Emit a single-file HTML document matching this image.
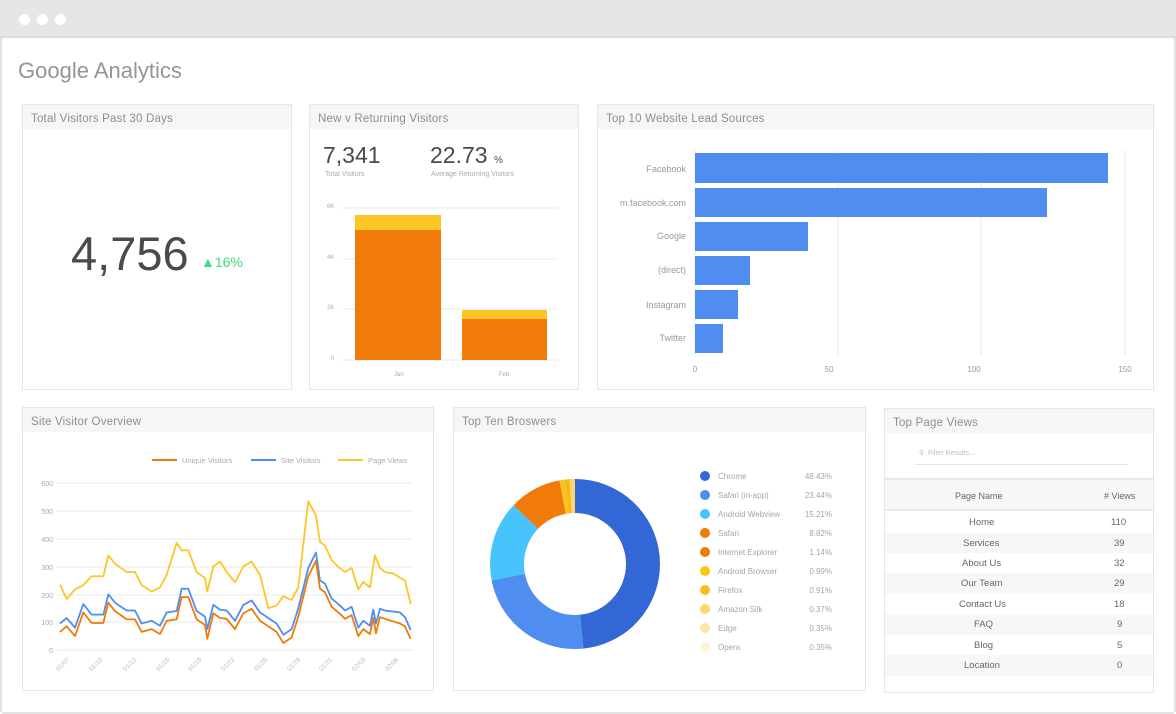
<!DOCTYPE html>
<html><head><meta charset="utf-8"><style>
*{box-sizing:border-box;margin:0;padding:0}
body{width:1176px;height:714px;background:#fff;font-family:"Liberation Sans",sans-serif;position:relative;overflow:hidden;color:#888}
.win{position:absolute;left:0;top:0;width:1176px;height:714px;border:2px solid #e2e2e2;border-radius:4px}
.bar{position:absolute;left:0;top:0;width:1176px;height:38px;background:#e6e6e6;border-bottom:2px solid #dcdcdc}
.dot{position:absolute;top:14px;width:11px;height:11px;border-radius:50%;background:#fff}
.panel{position:absolute;border:1px solid #e6e6e6;background:#fff}
.hd{height:24px;background:#f6f6f6;font-size:11.5px;color:#8e8e8e;padding:8px 0 0 8px;letter-spacing:.2px}
svg text{font-family:"Liberation Sans",sans-serif}
</style></head><body>
<div class="win"></div>
<div class="bar"></div>
<div class="dot" style="left:19px"></div><div class="dot" style="left:37px"></div><div class="dot" style="left:55px"></div>
<div style="position:absolute;left:18px;top:58px;font-size:22px;color:#959595">Google Analytics</div>

<div class="panel" style="left:22px;top:104px;width:270px;height:286px"><div class="hd">Total Visitors Past 30 Days</div>
<div style="position:absolute;left:48px;top:121px;font-size:47px;color:#4a4a4a">4,756</div>
<div style="position:absolute;left:178px;top:149px;font-size:14px;color:#3ddc84">▲16%</div></div>

<div class="panel" style="left:309px;top:104px;width:270px;height:286px"><div class="hd">New v Returning Visitors</div>
<div style="position:absolute;left:13px;top:37px;font-size:23px;color:#4a4a4a">7,341</div>
<div style="position:absolute;left:15px;top:66px;font-size:7px;color:#aaa">Total Visitors</div>
<div style="position:absolute;left:120px;top:37px;font-size:23px;color:#4a4a4a">22.73 <span style="font-size:10px">%</span></div>
<div style="position:absolute;left:121px;top:66px;font-size:7px;color:#aaa">Average Returning Visitors</div></div>

<div class="panel" style="left:597px;top:104px;width:557px;height:286px"><div class="hd">Top 10 Website Lead Sources</div></div>
<div class="panel" style="left:22px;top:407px;width:412px;height:284px"><div class="hd">Site Visitor Overview</div></div>
<div class="panel" style="left:453px;top:407px;width:413px;height:284px"><div class="hd">Top Ten Broswers</div></div>
<div class="panel" style="left:884px;top:408px;width:270px;height:285px"><div class="hd">Top Page Views</div>
<div style="position:absolute;left:30px;top:40px;width:213px;height:16px;border-bottom:1px solid #e2e2e2;font-size:7px;color:#bbb;padding-left:4px">&#9906; &nbsp;Filter Results...</div>
<div style="position:absolute;left:0;top:69px;width:268px;height:33px;background:#f6f7f7;border-top:2px solid #e8e8e8;border-bottom:2px solid #ececec;font-size:9px;color:#666">
<span style="position:absolute;left:70px;top:11px">Page Name</span><span style="position:absolute;left:219px;top:11px"># Views</span></div>
<div style="position:absolute;left:0;top:103px;width:268px;font-size:9.5px;color:#666">
<div style="height:21px;position:relative"><span style="position:absolute;left:84px;top:5px">Home</span><span style="position:absolute;left:226px;top:5px">110</span></div>
<div style="height:20px;position:relative;background:#f6f7f7"><span style="position:absolute;left:78px;top:5px">Services</span><span style="position:absolute;left:229px;top:5px">39</span></div>
<div style="height:20px;position:relative"><span style="position:absolute;left:77px;top:5px">About Us</span><span style="position:absolute;left:229px;top:5px">32</span></div>
<div style="height:21px;position:relative;background:#f6f7f7"><span style="position:absolute;left:76px;top:5px">Our Team</span><span style="position:absolute;left:229px;top:5px">29</span></div>
<div style="height:20px;position:relative"><span style="position:absolute;left:74px;top:5px">Contact Us</span><span style="position:absolute;left:229px;top:5px">18</span></div>
<div style="height:21px;position:relative;background:#f6f7f7"><span style="position:absolute;left:89px;top:5px">FAQ</span><span style="position:absolute;left:232px;top:5px">9</span></div>
<div style="height:20px;position:relative"><span style="position:absolute;left:89px;top:5px">Blog</span><span style="position:absolute;left:232px;top:5px">5</span></div>
<div style="height:21px;position:relative;background:#f6f7f7"><span style="position:absolute;left:79px;top:5px">Location</span><span style="position:absolute;left:232px;top:5px">0</span></div>
</div></div>

<svg width="1176" height="714" style="position:absolute;left:0;top:0" font-size="7" fill="#aaa">
<g stroke="#e8e8e8" stroke-width="1">
<line x1="343" y1="208" x2="558" y2="208"/><line x1="343" y1="259" x2="558" y2="259"/><line x1="343" y1="309" x2="558" y2="309"/><line x1="343" y1="360" x2="558" y2="360"/></g>
<text x="327" y="208" font-size="6">6K</text><text x="327" y="259" font-size="6">4K</text><text x="327" y="309" font-size="6">2K</text><text x="331" y="360" font-size="6">0</text>
<rect x="355" y="215" width="86" height="15" fill="#fdc526"/><rect x="355" y="230" width="86" height="130" fill="#f07b08"/>
<rect x="462" y="310" width="85" height="9" fill="#fdc526"/><rect x="462" y="319" width="85" height="41" fill="#f07b08"/>
<text x="394" y="376" font-size="6">Jan</text><text x="499" y="376" font-size="6">Feb</text>
<g stroke="#e8e8e8"><line x1="695" y1="150" x2="695" y2="356"/><line x1="838" y1="150" x2="838" y2="356"/><line x1="981" y1="150" x2="981" y2="356"/><line x1="1125" y1="150" x2="1125" y2="356"/></g>
<g fill="#4f8ef0"><rect x="695" y="153" width="413" height="30"/><rect x="695" y="188" width="352" height="29"/><rect x="695" y="222" width="113" height="29"/><rect x="695" y="256" width="55" height="29"/><rect x="695" y="290" width="43" height="29"/><rect x="695" y="324" width="28" height="29"/></g>
<g font-size="9" fill="#999" text-anchor="end"><text x="686" y="172">Facebook</text><text x="686" y="206">m.facebook.com</text><text x="686" y="239">Google</text><text x="686" y="273">(direct)</text><text x="686" y="308">Instagram</text><text x="686" y="341">Twitter</text></g>
<g font-size="8" fill="#999" text-anchor="middle"><text x="695" y="372">0</text><text x="829" y="372">50</text><text x="974" y="372">100</text><text x="1125" y="372">150</text></g>
<g stroke="#e8e8e8"><line x1="57" y1="483" x2="412" y2="483"/><line x1="57" y1="511" x2="412" y2="511"/><line x1="57" y1="539" x2="412" y2="539"/><line x1="57" y1="567" x2="412" y2="567"/><line x1="57" y1="595" x2="412" y2="595"/><line x1="57" y1="622" x2="412" y2="622"/><line x1="57" y1="650" x2="412" y2="650"/></g>
<g font-size="7" fill="#aaa" text-anchor="end"><text x="53" y="486">600</text><text x="53" y="514">500</text><text x="53" y="542">400</text><text x="53" y="570">300</text><text x="53" y="598">200</text><text x="53" y="625">100</text><text x="53" y="653">0</text></g>
<g font-size="6.5" fill="#bbb" text-anchor="end">
<text transform="translate(70,660) rotate(-45)">01/07</text><text transform="translate(103,660) rotate(-45)">01/10</text><text transform="translate(137,660) rotate(-45)">01/13</text><text transform="translate(170,660) rotate(-45)">01/16</text><text transform="translate(202,660) rotate(-45)">01/19</text><text transform="translate(235,660) rotate(-45)">01/22</text><text transform="translate(268,660) rotate(-45)">01/25</text><text transform="translate(301,660) rotate(-45)">01/28</text><text transform="translate(333,660) rotate(-45)">01/31</text><text transform="translate(366,660) rotate(-45)">02/03</text><text transform="translate(399,660) rotate(-45)">02/06</text></g>
<g fill="none" stroke-width="1.8" stroke-linejoin="round" transform="matrix(0.3333,0,0,-0.2783,20,650)">
<polyline vector-effect="non-scaling-stroke" stroke="#fdc526" points="120,235 140,183 165,218 190,233 215,265 250,265 265,340 285,310 320,280 345,280 365,233 395,210 420,225 440,270 470,385 485,358 505,358 530,280 555,258 562,210 580,300 600,318 620,280 645,243 670,300 695,318 720,270 745,150 770,160 790,193 815,180 835,225 865,535 888,483 900,388 915,375 935,323 960,293 975,280 995,295 1015,218 1030,245 1050,225 1065,340 1080,295 1095,280 1120,275 1140,260 1155,250 1172,165"/>
<polyline vector-effect="non-scaling-stroke" stroke="#4f8ef0" points="120,95 140,115 165,80 190,165 215,127 250,127 265,200 285,170 320,142 345,142 365,95 395,105 420,87 440,135 470,140 485,220 505,220 530,140 555,120 562,75 580,162 600,145 620,142 645,105 670,162 695,178 720,135 745,115 770,95 790,55 815,75 835,150 865,295 888,350 900,250 915,238 935,185 960,160 975,142 995,155 1015,80 1030,105 1050,87 1060,145 1068,95 1080,148 1095,142 1140,135 1155,118 1172,72"/>
<polyline vector-effect="non-scaling-stroke" stroke="#f07b08" points="120,65 140,85 165,50 190,135 215,97 250,97 265,170 285,140 320,110 345,110 365,65 395,75 420,57 440,105 470,110 485,190 505,190 530,110 555,90 562,40 580,132 600,115 620,112 645,75 670,132 695,148 720,105 745,85 770,65 790,25 815,45 835,120 865,265 888,320 900,220 915,208 935,155 960,130 975,112 995,125 1015,50 1030,75 1050,57 1060,115 1068,60 1080,118 1095,112 1140,95 1155,85 1172,40"/>
</g>
<g font-size="7.5" fill="#aaa"><line x1="152" y1="460" x2="177" y2="460" stroke="#f07b08" stroke-width="2"/><text x="182" y="463">Unique Visitors</text>
<line x1="251" y1="460" x2="276" y2="460" stroke="#4f8ef0" stroke-width="2"/><text x="281" y="463">Site Visitors</text>
<line x1="338" y1="460" x2="363" y2="460" stroke="#fdc526" stroke-width="2"/><text x="368" y="463">Page Views</text></g>
<g transform="rotate(-90 575 564)" fill="none" stroke-width="34">
<circle cx="575" cy="564" r="68" stroke="#3367d6" stroke-dasharray="206.9 1000" stroke-dashoffset="0"/>
<circle cx="575" cy="564" r="68" stroke="#4f8ef0" stroke-dasharray="100.2 1000" stroke-dashoffset="-206.9"/>
<circle cx="575" cy="564" r="68" stroke="#47c4fb" stroke-dasharray="65 1000" stroke-dashoffset="-307.1"/>
<circle cx="575" cy="564" r="68" stroke="#f07b08" stroke-dasharray="42.5 1000" stroke-dashoffset="-372.1"/>
<circle cx="575" cy="564" r="68" stroke="#fbc21b" stroke-dasharray="4.2 1000" stroke-dashoffset="-414.6"/>
<circle cx="575" cy="564" r="68" stroke="#f6b91a" stroke-dasharray="3.9 1000" stroke-dashoffset="-418.8"/>
<circle cx="575" cy="564" r="68" stroke="#fcd66e" stroke-dasharray="4.6 1000" stroke-dashoffset="-422.7"/>
</g>
<g font-size="8" fill="#a5a5a5">
<circle cx="705" cy="476" r="5" fill="#3367d6"/><text x="718" y="479">Chrome</text><text x="832" y="479" text-anchor="end">48.43%</text>
<circle cx="705" cy="495" r="5" fill="#4f8ef0"/><text x="718" y="498">Safari (in-app)</text><text x="832" y="498" text-anchor="end">23.44%</text>
<circle cx="705" cy="514" r="5" fill="#47c4fb"/><text x="718" y="517">Android Webview</text><text x="832" y="517" text-anchor="end">15.21%</text>
<circle cx="705" cy="533" r="5" fill="#f07b08"/><text x="718" y="536">Safari</text><text x="832" y="536" text-anchor="end">8.82%</text>
<circle cx="705" cy="552" r="5" fill="#f07b08"/><text x="718" y="555">Internet Explorer</text><text x="832" y="555" text-anchor="end">1.14%</text>
<circle cx="705" cy="571" r="5" fill="#fbc70f"/><text x="718" y="574">Android Browser</text><text x="832" y="574" text-anchor="end">0.99%</text>
<circle cx="705" cy="590" r="5" fill="#f6c01a"/><text x="718" y="593">Firefox</text><text x="832" y="593" text-anchor="end">0.91%</text>
<circle cx="705" cy="609" r="5" fill="#fcd66e"/><text x="718" y="612">Amazon Silk</text><text x="832" y="612" text-anchor="end">0.37%</text>
<circle cx="705" cy="628" r="5" fill="#fde6a2"/><text x="718" y="631">Edge</text><text x="832" y="631" text-anchor="end">0.35%</text>
<circle cx="705" cy="647" r="5" fill="#fef4d8"/><text x="718" y="650">Opera</text><text x="832" y="650" text-anchor="end">0.35%</text>
</g>
</svg>
</body></html>
